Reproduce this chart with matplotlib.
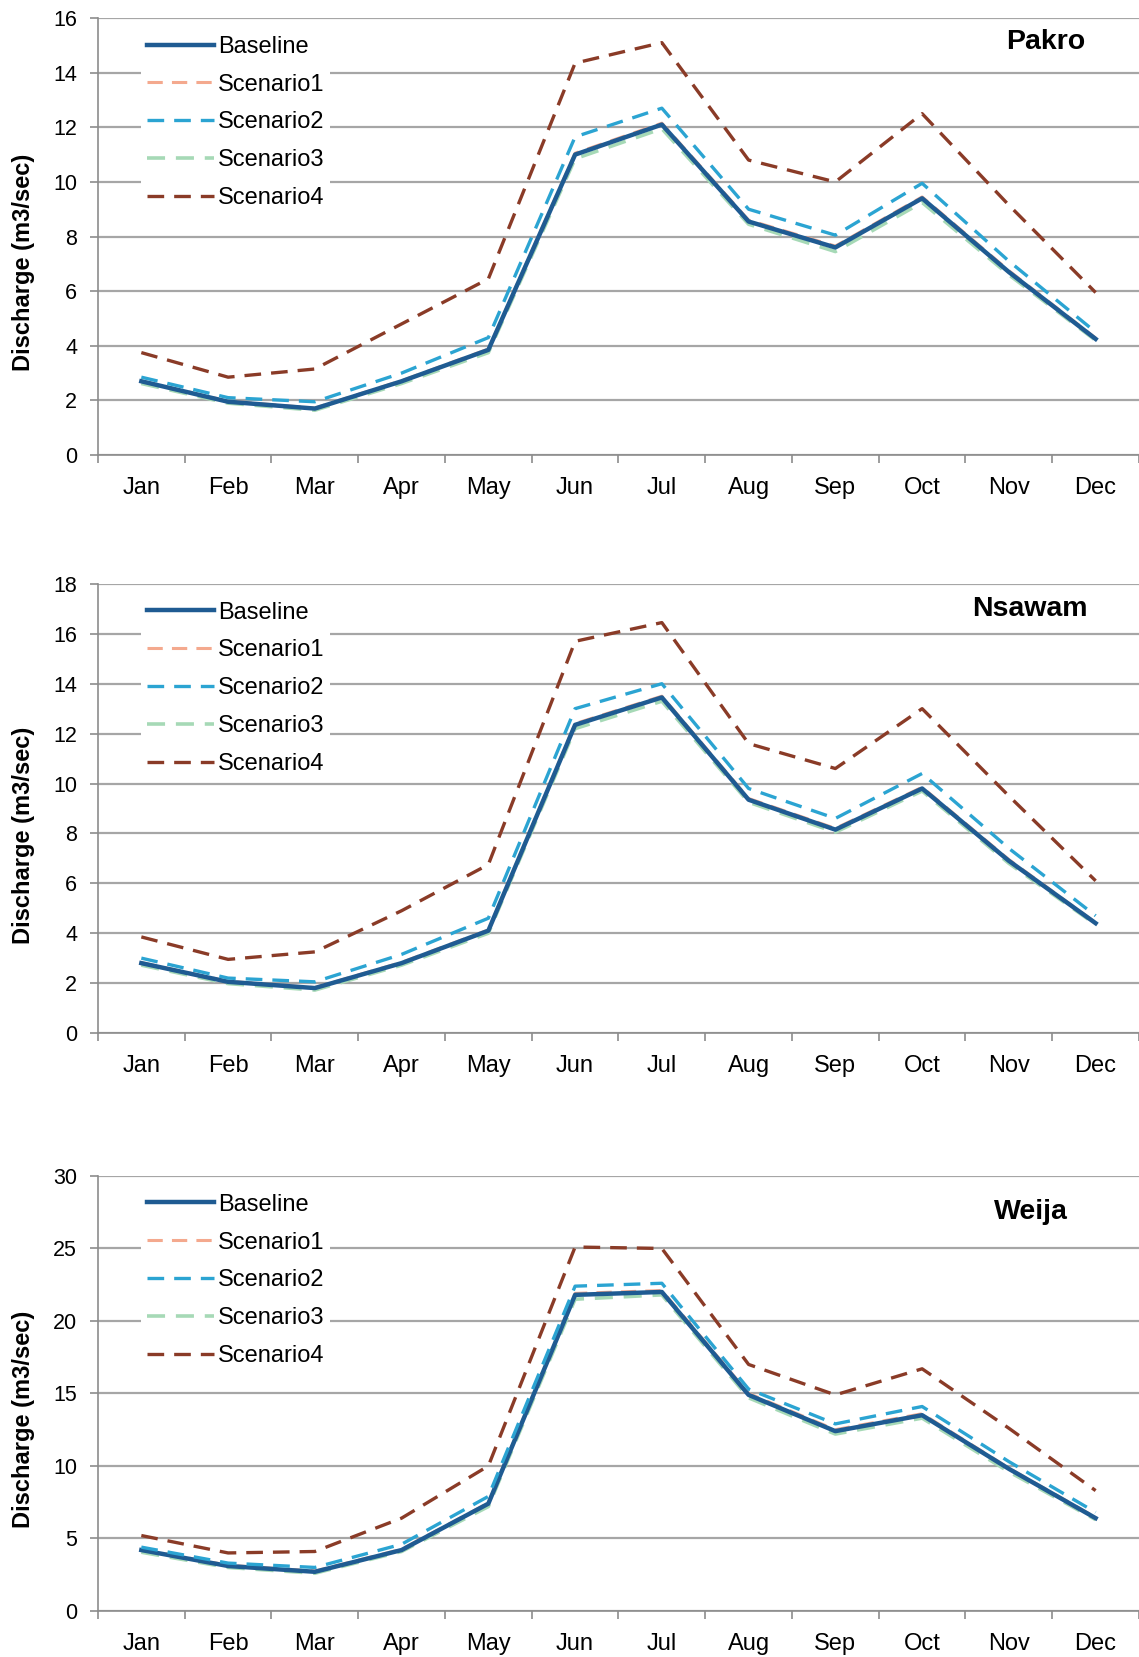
import matplotlib
matplotlib.use('Agg')
import matplotlib.pyplot as plt

plt.rcParams['font.family'] = ['Liberation Sans', 'DejaVu Sans']

months = ['Jan', 'Feb', 'Mar', 'Apr', 'May', 'Jun', 'Jul', 'Aug', 'Sep', 'Oct', 'Nov', 'Dec']
series_names = ['Baseline', 'Scenario1', 'Scenario2', 'Scenario3', 'Scenario4']

# Pakro
pakro_base = [2.7, 1.95, 1.7, 2.7, 3.85, 11.0, 12.1, 8.55, 7.6, 9.4, 6.7, 4.25]
pakro_s1 = [2.72, 1.97, 1.72, 2.72, 3.88, 11.05, 12.15, 8.6, 7.65, 9.45, 6.75, 4.28]
pakro_s2 = [2.85, 2.1, 1.95, 3.0, 4.3, 11.65, 12.7, 9.0, 8.05, 9.95, 7.1, 4.5]
pakro_s3 = [2.62, 1.9, 1.64, 2.62, 3.75, 10.85, 11.95, 8.45, 7.45, 9.25, 6.6, 4.2]
pakro_s4 = [3.75, 2.85, 3.15, 4.8, 6.45, 14.35, 15.1, 10.8, 10.0, 12.5, 9.15, 5.95]

# Nsawam
nsawam_base = [2.8, 2.05, 1.8, 2.8, 4.1, 12.35, 13.45, 9.35, 8.15, 9.8, 6.9, 4.4]
nsawam_s1 = [2.82, 2.07, 1.82, 2.83, 4.13, 12.4, 13.5, 9.4, 8.2, 9.85, 6.95, 4.42]
nsawam_s2 = [3.0, 2.2, 2.05, 3.15, 4.6, 13.0, 14.0, 9.8, 8.6, 10.4, 7.4, 4.7]
nsawam_s3 = [2.72, 1.98, 1.72, 2.72, 4.0, 12.2, 13.3, 9.25, 8.05, 9.7, 6.8, 4.35]
nsawam_s4 = [3.85, 2.95, 3.25, 4.9, 6.75, 15.7, 16.45, 11.6, 10.6, 13.0, 9.5, 6.1]

# Weija
weija_base = [4.2, 3.1, 2.7, 4.2, 7.4, 21.8, 22.0, 14.9, 12.4, 13.5, 9.8, 6.4]
weija_s1 = [4.25, 3.15, 2.75, 4.25, 7.45, 21.9, 22.1, 15.0, 12.5, 13.6, 9.85, 6.45]
weija_s2 = [4.4, 3.3, 3.0, 4.6, 7.9, 22.4, 22.6, 15.3, 12.9, 14.1, 10.3, 6.8]
weija_s3 = [4.05, 3.0, 2.6, 4.1, 7.2, 21.5, 21.8, 14.7, 12.2, 13.3, 9.6, 6.3]
weija_s4 = [5.2, 4.0, 4.1, 6.4, 10.0, 25.1, 25.0, 17.0, 14.9, 16.7, 12.6, 8.3]

stations = ['Pakro', 'Nsawam', 'Weija']
y_max = [16, 18, 30]
y_step = [2, 2, 5]

colors = ['#1f5b92', '#f4a98e', '#2ba4d2', '#a6d9b6', '#8a3b27']
styles = ['-', '--', '--', '--', '--']
widths = [3.2, 2.2, 2.4, 2.6, 2.4]
zorders = [5, 3, 6, 2, 4]

data = [
    [pakro_base, pakro_s1, pakro_s2, pakro_s3, pakro_s4],
    [nsawam_base, nsawam_s1, nsawam_s2, nsawam_s3, nsawam_s4],
    [weija_base, weija_s1, weija_s2, weija_s3, weija_s4],
]

# axes boxes in figure fraction [left, bottom, width, height]
boxes = [
    [0.086, 0.7254, 0.914, 0.2637],
    [0.086, 0.3766, 0.914, 0.2710],
    [0.086, 0.0278, 0.914, 0.2625],
]
title_pos = [(0.91, 0.945), (0.895, 0.945), (0.896, 0.917)]

fig = plt.figure(figsize=(11.39, 16.57), dpi=100)
x = list(range(len(months)))

for i in range(3):
    ax = fig.add_axes(boxes[i])
    for j in range(5):
        ax.plot(x, data[i][j], linestyle=styles[j], color=colors[j], lw=widths[j],
                label=series_names[j], zorder=zorders[j], dashes=(5, 3) if j > 0 else (None, None))

    ax.set_xlim(-0.5, 11.5)
    ax.set_ylim(0, y_max[i])
    ax.set_yticks(range(0, y_max[i] + 1, y_step[i]))
    ax.yaxis.grid(True, color='#a6a6a6', lw=1.6)
    ax.set_axisbelow(True)

    ax.set_xticks([k - 0.5 for k in range(13)])
    ax.set_xticklabels([])
    ax.set_xticks(x, minor=True)
    ax.set_xticklabels(months, minor=True)
    ax.tick_params(axis='x', which='major', length=6, width=1.2, color='#8c8c8c', direction='out')
    ax.tick_params(axis='x', which='minor', length=0, pad=16, labelsize=17)
    ax.tick_params(axis='y', length=6, width=1.2, color='#8c8c8c', pad=9, labelsize=15.5)

    for s in ['top', 'right']:
        ax.spines[s].set_visible(False)
    ax.spines['left'].set_color('#8c8c8c')
    ax.spines['bottom'].set_color('#8c8c8c')
    ax.spines['left'].set_linewidth(1.2)
    ax.spines['bottom'].set_linewidth(1.2)

    ax.set_ylabel('Discharge (m3/sec)', fontsize=17, fontweight='bold')
    ax.yaxis.set_label_coords(-0.06, 0.44)

    leg = ax.legend(loc='upper left', bbox_to_anchor=(0.03, 1.0), frameon=True, fontsize=17,
                    handlelength=2.85, handletextpad=0.15, labelspacing=0.67, borderpad=0.25)
    leg.get_frame().set_facecolor('white')
    leg.get_frame().set_edgecolor('none')
    leg.get_frame().set_alpha(1.0)
    leg.set_zorder(10)

    ax.text(title_pos[i][0], title_pos[i][1], stations[i], transform=ax.transAxes,
            fontsize=20.5, fontweight='bold', ha='center', va='center')

fig.savefig('out.png', dpi=100)
